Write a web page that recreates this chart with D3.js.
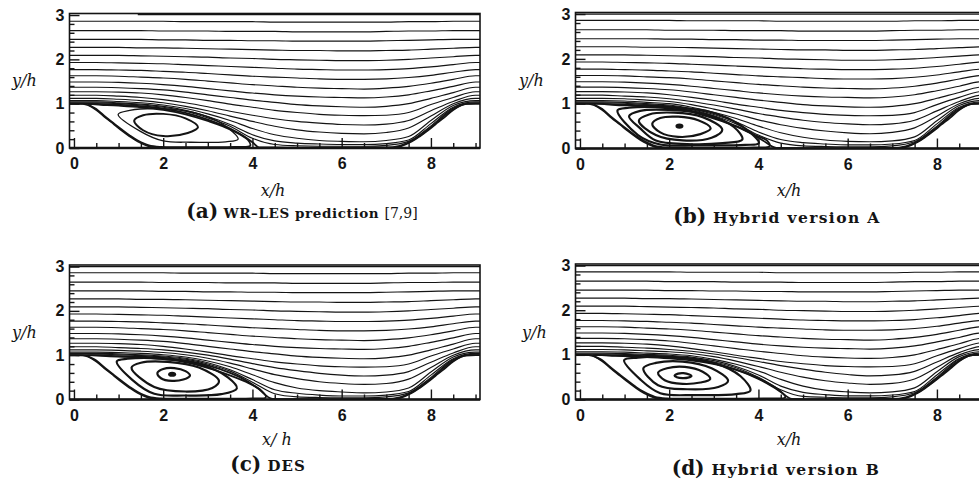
<!DOCTYPE html>
<html><head><meta charset="utf-8">
<script src="https://cdn.jsdelivr.net/npm/d3@7"></script>
<style>html,body{margin:0;padding:0;background:#fff;} svg{display:block;}</style>
</head><body>
<svg id="chart" width="979" height="484"></svg>
<script>
// ---------------- DATA ----------------
const xStations = [0,0.5,1,1.5,2,2.5,3,3.5,4,4.5,5,5.5,6,6.5,7,7.5,8,8.5,9];
const xTickValues = [0,2,4,6,8];
const yTickValues = [0,1,2,3];

// outer streamlines shared by all panels (y/h at xStations)
const outerLines = [
 [2.86,2.86,2.86,2.86,2.86,2.85,2.85,2.85,2.85,2.84,2.84,2.84,2.84,2.84,2.84,2.85,2.85,2.86,2.86],
 [2.65,2.65,2.65,2.65,2.64,2.64,2.64,2.63,2.63,2.63,2.62,2.62,2.62,2.62,2.63,2.64,2.64,2.65,2.65],
 [2.45,2.45,2.45,2.45,2.44,2.44,2.43,2.43,2.42,2.42,2.41,2.41,2.41,2.41,2.42,2.43,2.44,2.45,2.45],
 [2.27,2.27,2.27,2.26,2.26,2.25,2.24,2.23,2.22,2.21,2.20,2.20,2.19,2.19,2.20,2.21,2.23,2.25,2.27],
 [2.09,2.09,2.09,2.08,2.07,2.06,2.05,2.03,2.02,2.00,1.99,1.98,1.97,1.97,1.98,2.00,2.03,2.06,2.09],
 [1.93,1.93,1.92,1.91,1.90,1.88,1.86,1.84,1.82,1.80,1.78,1.77,1.76,1.76,1.77,1.79,1.83,1.88,1.93],
 [1.77,1.77,1.76,1.75,1.73,1.71,1.68,1.65,1.62,1.60,1.58,1.56,1.55,1.55,1.56,1.59,1.64,1.71,1.77],
 [1.63,1.63,1.62,1.60,1.58,1.55,1.51,1.47,1.43,1.40,1.37,1.35,1.34,1.33,1.35,1.39,1.46,1.55,1.63],
 [1.49,1.49,1.48,1.46,1.43,1.39,1.34,1.29,1.24,1.20,1.17,1.15,1.14,1.13,1.15,1.20,1.29,1.39,1.49],
 [1.37,1.37,1.36,1.34,1.31,1.26,1.20,1.14,1.08,1.03,0.98,0.95,0.93,0.92,0.94,1.00,1.12,1.25,1.37],
 [1.27,1.27,1.26,1.24,1.20,1.14,1.07,0.99,0.92,0.85,0.80,0.76,0.74,0.73,0.74,0.80,0.98,1.14,1.27]
];

// lower streamlines, per panel
const lowerLinesA = [
 [1.19,1.19,1.17,1.14,1.09,1.02,0.93,0.83,0.74,0.66,0.60,0.56,0.53,0.52,0.54,0.62,0.84,1.05,1.19],
 [1.12,1.12,1.10,1.07,1.02,0.94,0.84,0.72,0.60,0.49,0.41,0.36,0.33,0.32,0.35,0.45,0.72,1.00,1.12],
 [1.07,1.07,1.05,1.02,0.97,0.89,0.77,0.62,0.44,0.30,0.22,0.17,0.15,0.14,0.17,0.26,0.62,0.96,1.07],
 [1.04,1.04,1.02,0.99,0.94,0.85,0.71,0.53,0.30,0.16,0.11,0.09,0.08,0.08,0.10,0.18,0.55,0.92,1.04],
 [1.02,1.02,1.00,0.97,0.92,0.83,0.68,0.49,0.22,0.08,0.05,0.04,0.04,0.04,0.06,0.15,0.50,0.90,1.02]
];
const lowerLinesB = [
 [1.19,1.19,1.17,1.15,1.11,1.05,0.97,0.88,0.78,0.70,0.63,0.58,0.55,0.53,0.55,0.63,0.84,1.05,1.19],
 [1.12,1.12,1.11,1.08,1.05,0.98,0.88,0.77,0.64,0.53,0.45,0.39,0.35,0.33,0.36,0.46,0.72,1.00,1.12],
 [1.07,1.07,1.06,1.03,1.00,0.92,0.81,0.67,0.50,0.35,0.25,0.19,0.16,0.15,0.17,0.26,0.62,0.96,1.07],
 [1.04,1.04,1.03,1.00,0.97,0.89,0.76,0.59,0.37,0.20,0.13,0.10,0.08,0.08,0.10,0.18,0.55,0.92,1.04],
 [1.02,1.02,1.01,0.98,0.95,0.87,0.73,0.55,0.30,0.12,0.06,0.045,0.04,0.04,0.06,0.15,0.50,0.90,1.02]
];
const lowerLinesC = [
 [1.19,1.19,1.17,1.15,1.12,1.07,1.00,0.91,0.81,0.72,0.65,0.59,0.55,0.53,0.55,0.63,0.84,1.05,1.19],
 [1.12,1.12,1.11,1.09,1.06,1.01,0.93,0.82,0.69,0.56,0.47,0.40,0.36,0.34,0.36,0.46,0.72,1.00,1.12],
 [1.07,1.07,1.06,1.04,1.01,0.96,0.87,0.74,0.56,0.38,0.26,0.20,0.17,0.15,0.17,0.26,0.62,0.96,1.07],
 [1.04,1.04,1.03,1.01,0.98,0.93,0.83,0.67,0.45,0.22,0.14,0.10,0.08,0.08,0.10,0.18,0.55,0.92,1.04],
 [1.02,1.02,1.01,0.99,0.96,0.91,0.80,0.64,0.39,0.13,0.06,0.045,0.04,0.04,0.06,0.15,0.50,0.90,1.02]
];
const lowerLinesD = [
 [1.19,1.19,1.17,1.15,1.12,1.08,1.02,0.94,0.85,0.76,0.68,0.61,0.56,0.53,0.55,0.63,0.84,1.05,1.19],
 [1.12,1.12,1.11,1.09,1.07,1.03,0.96,0.86,0.74,0.61,0.50,0.42,0.37,0.34,0.36,0.46,0.72,1.00,1.12],
 [1.07,1.07,1.06,1.04,1.02,0.98,0.90,0.79,0.64,0.45,0.30,0.21,0.17,0.15,0.17,0.26,0.62,0.96,1.07],
 [1.04,1.04,1.03,1.01,0.99,0.95,0.87,0.74,0.55,0.30,0.16,0.11,0.08,0.08,0.10,0.18,0.55,0.92,1.04],
 [1.02,1.02,1.01,0.99,0.97,0.93,0.84,0.71,0.50,0.22,0.07,0.05,0.04,0.04,0.06,0.15,0.50,0.90,1.02]
];

// dividing streamlines [x/h, y/h]
const separatrixA = [[0,1.0],[0.5,0.995],[1,0.975],[1.5,0.945],[2,0.89],[2.5,0.79],[3,0.64],[3.5,0.44],[3.8,0.27],[4.0,0.13],[4.15,0.015],[4.5,0.012],[5,0.01],[6,0.01],[7,0.012],[7.3,0.05],[7.6,0.18],[8,0.47],[8.5,0.875],[8.8,0.995],[9,1.0]];
const separatrixB = [[0,1.0],[0.5,0.995],[1,0.98],[1.5,0.96],[2,0.93],[2.5,0.84],[3,0.69],[3.5,0.5],[3.8,0.36],[4.1,0.18],[4.4,0.015],[5,0.01],[6,0.01],[7,0.012],[7.3,0.05],[7.6,0.18],[8,0.47],[8.5,0.875],[8.8,0.995],[9,1.0]];
const separatrixC = [[0,1.0],[0.5,0.995],[1,0.98],[1.5,0.965],[2,0.94],[2.5,0.88],[3,0.77],[3.5,0.6],[3.8,0.46],[4.1,0.27],[4.45,0.015],[5,0.01],[6,0.01],[7,0.012],[7.3,0.05],[7.6,0.18],[8,0.47],[8.5,0.875],[8.8,0.995],[9,1.0]];
const separatrixD = [[0,1.0],[0.5,0.995],[1,0.985],[1.5,0.97],[2,0.95],[2.5,0.9],[3,0.81],[3.5,0.67],[4,0.46],[4.3,0.3],[4.5,0.17],[4.75,0.015],[5.2,0.01],[6,0.01],[7,0.012],[7.3,0.05],[7.6,0.18],[8,0.47],[8.5,0.875],[8.8,0.995],[9,1.0]];

// outermost recirculating loop hugging the hill and the floor
const wallLoopA = [[0.32,0.99],[0.5,0.88],[0.71,0.70],[0.9,0.55],[1.07,0.42],[1.25,0.285],[1.43,0.17],[1.68,0.06],[1.95,0.025],[2.5,0.02],[3.0,0.02],[3.6,0.025],[3.95,0.05],[3.9,0.18],[3.5,0.42],[3.0,0.61],[2.5,0.76],[2.0,0.86],[1.5,0.92],[1.0,0.955],[0.6,0.975]];
const wallLoopB = [[0.32,0.99],[0.5,0.88],[0.71,0.70],[0.9,0.55],[1.07,0.42],[1.25,0.285],[1.43,0.17],[1.68,0.06],[1.95,0.025],[2.6,0.02],[3.3,0.02],[3.9,0.025],[4.25,0.05],[4.2,0.17],[3.85,0.33],[3.4,0.53],[2.9,0.7],[2.4,0.84],[1.9,0.9],[1.4,0.945],[0.8,0.97]];
const wallLoopC = [[0.3,0.99],[0.5,0.88],[0.71,0.70],[0.9,0.55],[1.07,0.42],[1.25,0.285],[1.43,0.17],[1.68,0.06],[1.95,0.025],[2.6,0.02],[3.4,0.02],[4.0,0.025],[4.3,0.05],[4.2,0.2],[3.85,0.4],[3.4,0.58],[2.9,0.74],[2.4,0.86],[1.9,0.92],[1.4,0.955],[0.8,0.975]];
const wallLoopD = [[0.3,0.99],[0.5,0.88],[0.71,0.70],[0.9,0.55],[1.07,0.42],[1.25,0.285],[1.43,0.17],[1.68,0.06],[1.95,0.025],[2.7,0.02],[3.5,0.02],[4.2,0.025],[4.6,0.05],[4.5,0.18],[4.15,0.4],[3.7,0.6],[3.2,0.75],[2.6,0.86],[2.0,0.92],[1.4,0.955],[0.8,0.975]];

// closed recirculation loops (outermost first)
const loopsA = [
 [[0.99,0.76],[1.25,0.85],[1.9,0.89],[2.7,0.8],[3.3,0.56],[3.68,0.2],[3.4,0.14],[2.6,0.13],[2.0,0.16],[1.5,0.37]],
 [[1.35,0.62],[1.55,0.74],[2.0,0.77],[2.5,0.67],[2.78,0.47],[2.55,0.34],[2.0,0.27],[1.55,0.4]]
];
const loopsB = [
 [[0.84,0.85],[1.1,0.91],[1.9,0.92],[2.9,0.82],[3.6,0.52],[4.01,0.12],[3.7,0.08],[2.6,0.07],[1.8,0.09],[1.3,0.3]],
 [[1.1,0.72],[1.35,0.84],[2.0,0.86],[2.85,0.76],[3.45,0.48],[3.64,0.2],[3.2,0.12],[2.4,0.1],[1.7,0.18],[1.35,0.45]],
 [[1.32,0.62],[1.55,0.76],[2.1,0.8],[2.75,0.7],[3.19,0.42],[2.95,0.24],[2.3,0.18],[1.7,0.3]],
 [[1.62,0.55],[1.8,0.68],[2.2,0.71],[2.65,0.63],[2.93,0.45],[2.7,0.32],[2.2,0.26],[1.8,0.36]]
];
const loopsC = [
 [[0.96,0.86],[1.2,0.92],[1.9,0.93],[2.8,0.8],[3.45,0.5],[3.65,0.25],[3.3,0.12],[2.5,0.09],[1.8,0.13],[1.3,0.45]],
 [[1.29,0.72],[1.5,0.83],[2.1,0.85],[2.8,0.72],[3.25,0.42],[3.1,0.26],[2.5,0.18],[1.8,0.28]],
 [[1.87,0.6],[2.0,0.69],[2.25,0.71],[2.5,0.64],[2.6,0.54],[2.45,0.45],[2.2,0.42],[1.95,0.48]]
];
const loopsD = [
 [[0.99,0.88],[1.3,0.94],[2.1,0.95],[3.0,0.82],[3.6,0.52],[3.82,0.2],[3.5,0.12],[2.6,0.1],[1.8,0.14],[1.35,0.45]],
 [[1.42,0.7],[1.7,0.82],[2.3,0.85],[2.95,0.7],[3.32,0.42],[3.1,0.28],[2.4,0.23],[1.75,0.32]],
 [[1.75,0.6],[1.95,0.7],[2.35,0.73],[2.75,0.62],[2.92,0.46],[2.7,0.38],[2.3,0.35],[1.9,0.43]],
 [[2.12,0.53],[2.2,0.58],[2.32,0.59],[2.45,0.56],[2.5,0.53],[2.42,0.49],[2.3,0.48],[2.17,0.5]]
];
// vortex-centre dots
const centreB = [2.23,0.5];
const centreC = [2.2,0.57];

// hill geometry (left hill, x/h, y/h); right hill is its mirror about x/h = 4.5
const hillX = [0,0.2,0.32,0.5,0.71,0.9,1.07,1.25,1.43,1.68,1.93];
const hillY = [1.0,0.994,0.964,0.857,0.679,0.53,0.393,0.26,0.143,0.036,0];

// near-wall line at the top
const topLineA = [[1.43,3.01],[9.1,3.01]];
const topLineFull = [[-0.1,3.0],[9.1,3.0]];

const captionLetters = ['(a)','(b)','(c)','(d)'];
const captionTexts = [' WR\u2013LES prediction ',' Hybrid version A',' DES',' Hybrid version B'];
const captionRefs = ['[7,9]','','',''];
const xLabels = ['x/h','x/h','x/ h','x/h'];
const yLabel = 'y/h';

// ---------------- LAYOUT ----------------
const panels = [
 {L:69.5,R:480,T:13.5,B:148,  lower:lowerLinesA,sep:separatrixA,wall:wallLoopA,loops:loopsA,centre:null,top:topLineA,loopW:[1.3,2.0],
  ylab:[12,86], xlab:[273,196], cap:[302,218], capFs:13.5, capLs:0.6},
 {L:575.5,R:986,T:12.5,B:148.5,lower:lowerLinesB,sep:separatrixB,wall:wallLoopB,loops:loopsB,centre:centreB,top:topLineFull,loopW:[2.2],
  ylab:[519,86], xlab:[789,196], cap:[777,223], capFs:15.5, capLs:1.4},
 {L:69.5,R:480,T:265,B:399.5, lower:lowerLinesC,sep:separatrixC,wall:wallLoopC,loops:loopsC,centre:centreC,top:topLineFull,loopW:[2.2],
  ylab:[12,338], xlab:[277,445], cap:[268,471], capFs:15, capLs:1.0},
 {L:575.5,R:986,T:264,B:399.5,lower:lowerLinesD,sep:separatrixD,wall:wallLoopD,loops:loopsD,centre:null,top:topLineFull,loopW:[2.2],
  ylab:[522,338], xlab:[789,445], cap:[776,475], capFs:15.5, capLs:1.4}
];

const svg = d3.select('#chart');
const ink = '#141414';

panels.forEach((p,pi)=>{
  const x = d3.scaleLinear().domain([-0.1,9.1]).range([p.L,p.R]);
  const y = d3.scaleLinear().domain([0,3.035]).range([p.B,p.T]);
  const g = svg.append('g');
  const clipId = 'clip'+pi;
  svg.append('clipPath').attr('id',clipId).append('rect')
     .attr('x',p.L).attr('y',p.T).attr('width',p.R-p.L).attr('height',p.B-p.T);
  const plot = g.append('g').attr('clip-path',`url(#${clipId})`);

  const mono = d3.line().x(d=>x(d[0])).y(d=>y(d[1])).curve(d3.curveMonotoneX);
  const closed = d3.line().x(d=>x(d[0])).y(d=>y(d[1])).curve(d3.curveCatmullRomClosed.alpha(0.5));
  const toPts = ys => [[-0.1,ys[0]]].concat(xStations.map((xv,i)=>[xv,ys[i]])).concat([[9.1,ys[ys.length-1]]]);

  // outer streamlines
  outerLines.concat(p.lower).forEach(ys=>{
    plot.append('path').attr('d',mono(toPts(ys))).attr('fill','none')
      .attr('stroke',ink).attr('stroke-width',1.15);
  });
  // top line
  plot.append('path').attr('d',mono(p.top)).attr('fill','none').attr('stroke',ink).attr('stroke-width',1.3);

  // hill walls
  const leftHill = hillX.map((v,i)=>[v,hillY[i]]);
  const rightHill = hillX.map((v,i)=>[9-v,hillY[i]]).reverse();
  plot.append('path').attr('d',mono([[-0.1,1]].concat(leftHill))).attr('fill','none').attr('stroke',ink).attr('stroke-width',1.6);
  plot.append('path').attr('d',mono(rightHill.concat([[9.1,1]]))).attr('fill','none').attr('stroke',ink).attr('stroke-width',1.6);

  // separatrix
  plot.append('path').attr('d',mono([[-0.1,1]].concat(p.sep).concat([[9.1,1]]))).attr('fill','none')
     .attr('stroke',ink).attr('stroke-width',1.8);
  // wall loop
  plot.append('path').attr('d',closed(p.wall)).attr('fill','none').attr('stroke',ink).attr('stroke-width',1.8);
  // inner loops
  p.loops.forEach((lp,li)=>{
    const w = p.loopW[Math.min(li,p.loopW.length-1)];
    plot.append('path').attr('d',closed(lp)).attr('fill','none').attr('stroke',ink).attr('stroke-width',w);
  });
  if(p.centre){
    plot.append('ellipse').attr('cx',x(p.centre[0])).attr('cy',y(p.centre[1]))
      .attr('rx',4).attr('ry',2.6).attr('fill',ink);
  }

  // axes
  const styleAxis = sel=>{
    sel.select('.domain').remove();
    sel.selectAll('line').attr('stroke',ink).attr('stroke-width',1.4);
    sel.selectAll('text').attr('fill',ink)
       .style('font-family','"Liberation Sans", Arial, sans-serif')
       .style('font-weight','bold').style('font-size','16px');
  };
  const xMinor = d3.range(0,9.01,0.5).filter(v=>v%2!==0);
  const yMinor = d3.range(0,3.01,0.2).filter(v=>Math.abs(v-Math.round(v))>1e-6);
  g.append('g').attr('transform',`translate(0,${p.B})`)
    .call(d3.axisBottom(x).tickValues(xMinor).tickSize(-5).tickFormat('')).call(styleAxis);
  g.append('g').attr('transform',`translate(0,${p.B})`)
    .call(d3.axisBottom(x).tickValues(xTickValues).tickSize(-10).tickPadding(10).tickFormat(d3.format('d'))).call(styleAxis);
  g.append('g').attr('transform',`translate(${p.L},0)`)
    .call(d3.axisLeft(y).tickValues(yMinor).tickSize(-5).tickFormat('')).call(styleAxis);
  g.append('g').attr('transform',`translate(${p.L},0)`)
    .call(d3.axisLeft(y).tickValues(yTickValues).tickSize(-10).tickPadding(5).tickFormat(d3.format('d'))).call(styleAxis);

  // frame
  g.append('rect').attr('x',p.L).attr('y',p.T).attr('width',p.R-p.L).attr('height',p.B-p.T)
    .attr('fill','none').attr('stroke',ink).attr('stroke-width',1.6);
  g.append('line').attr('x1',p.L).attr('x2',p.R).attr('y1',p.B).attr('y2',p.B)
    .attr('stroke',ink).attr('stroke-width',2.4);

  // labels
  g.append('text').attr('x',p.ylab[0]).attr('y',p.ylab[1]).text(yLabel)
    .style('font-family','"DejaVu Serif", serif').style('font-style','italic').style('font-size','16px').attr('fill',ink);
  g.append('text').attr('x',p.xlab[0]).attr('y',p.xlab[1]).attr('text-anchor','middle').text(xLabels[pi])
    .style('font-family','"DejaVu Serif", serif').style('font-style','italic').style('font-size','16px').attr('fill',ink);
  const cap = g.append('text').attr('x',p.cap[0]).attr('y',p.cap[1]).attr('text-anchor','middle')
    .style('font-family','"DejaVu Serif", serif').attr('fill',ink);
  cap.append('tspan').text(captionLetters[pi]).style('font-weight','bold').style('font-size','20px');
  cap.append('tspan').text(captionTexts[pi]).style('font-weight','bold').style('font-size',p.capFs+'px')
    .style('letter-spacing',p.capLs+'px');
  if(captionRefs[pi]) cap.append('tspan').text(captionRefs[pi]).style('font-size','14px');
});
</script>
</body></html>
